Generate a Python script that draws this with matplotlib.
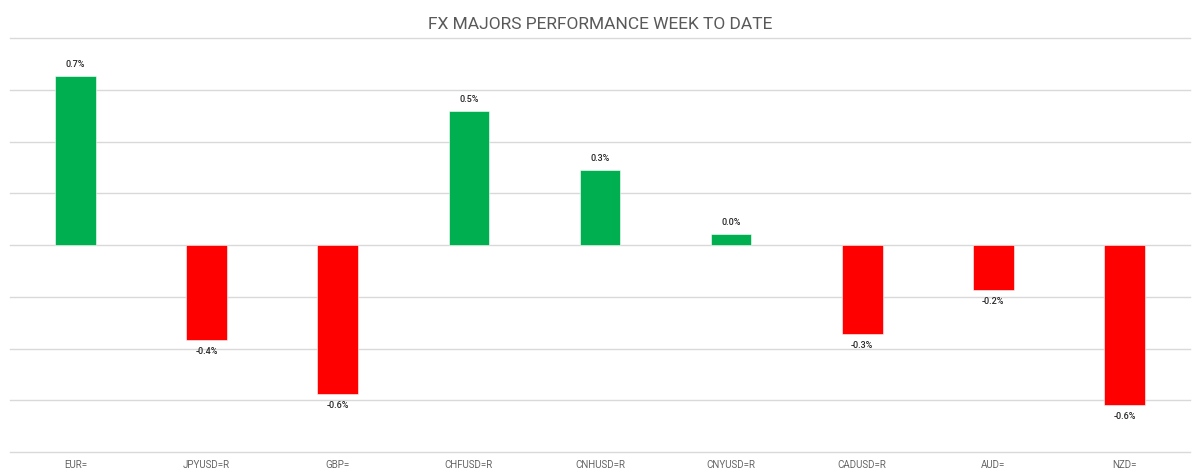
import numpy as np
import matplotlib.pyplot as plt

# FX majors week-to-date performance (%)
pairs = ['EUR=', 'JPYUSD=R', 'GBP=', 'CHFUSD=R', 'CNHUSD=R', 'CNYUSD=R',
         'CADUSD=R', 'AUD=', 'NZD=']
perf = [0.653, -0.367, -0.576, 0.518, 0.29, 0.042, -0.345, -0.174, -0.618]

plt.rcParams['font.family'] = ['Roboto', 'DejaVu Sans']

fig = plt.figure(figsize=(12, 4.76), dpi=100)
ax = fig.add_axes([0.0083, 0.0504, 0.9834, 0.8697])

x = np.arange(len(pairs))
colors = ['#00B050' if v >= 0 else '#FF0000' for v in perf]
ax.bar(x, perf, width=0.31, color=colors, edgecolor='#ffffff', linewidth=0.4, zorder=3)

# value labels
for xi, v in zip(x, perf):
    if v >= 0:
        ax.annotate(f'{v:.1f}%', (xi, v), xytext=(0, 5), textcoords='offset points',
                    ha='center', va='bottom', fontsize=6.5, color='#262626',
                    fontweight='medium')
    else:
        ax.annotate(f'{v:.1f}%', (xi, v), xytext=(0, -5), textcoords='offset points',
                    ha='center', va='top', fontsize=6.5, color='#262626',
                    fontweight='medium')

ax.set_xlim(-0.5, 8.5)
ax.set_ylim(-0.8, 0.8)
ax.set_yticks(np.arange(-0.8, 0.81, 0.2))
ax.yaxis.grid(True, color='#d9d9d9', linewidth=1, zorder=0)
for gl in ax.get_ygridlines():
    gl.set_clip_on(False)
ax.tick_params(axis='y', left=False, labelleft=False)
ax.set_xticks(x)
ax.set_xticklabels(pairs, fontsize=7, color='#666666')
ax.tick_params(axis='x', length=0, pad=6)
for s in ax.spines.values():
    s.set_visible(False)

fig.suptitle('FX MAJORS PERFORMANCE WEEK TO DATE', y=0.965, fontsize=12.5,
             color='#595959')

fig.savefig('out.png', dpi=100)
